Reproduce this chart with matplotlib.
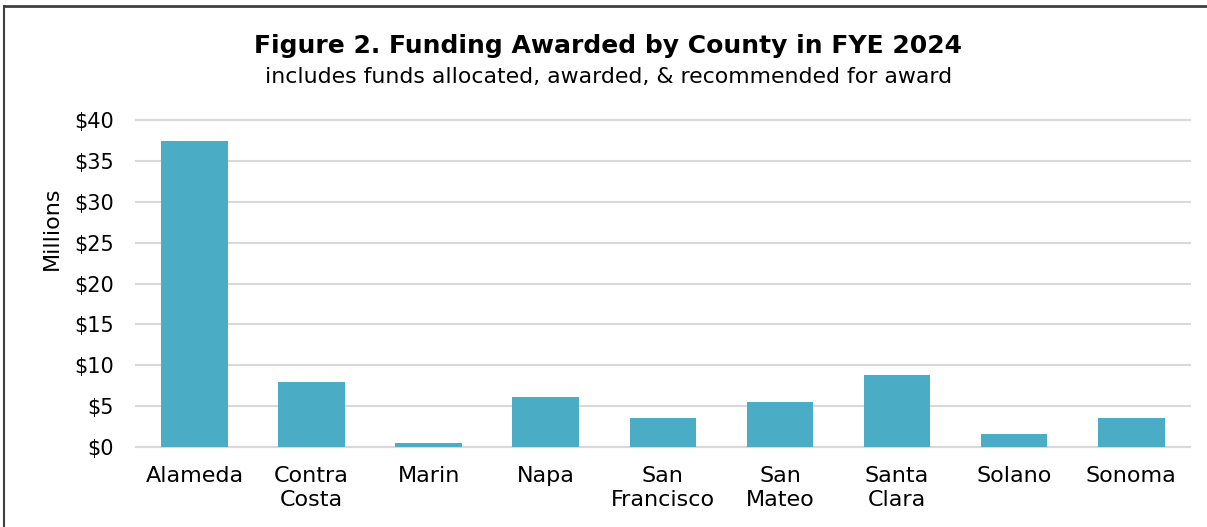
import matplotlib.pyplot as plt
from matplotlib.lines import Line2D

# ==========================
# Data
# ==========================

counties = ["Alameda", "Contra\nCosta", "Marin", "Napa", "San\nFrancisco",
            "San\nMateo", "Santa\nClara", "Solano", "Sonoma"]
funding = [37.5, 7.9, 0.5, 6.1, 3.55, 5.5, 8.8, 1.55, 3.55]
y_ticks = [0, 5, 10, 15, 20, 25, 30, 35, 40]
y_labels = ["$" + str(v) for v in y_ticks]

plt.rcParams["font.family"] = ["DejaVu Sans"]

fig = plt.figure(figsize=(12.07, 5.27), dpi=100)
ax = fig.add_axes([0.1127, 0.152, 0.873, 0.62])

ax.bar(range(len(counties)), funding, width=0.57, color="#4BACC6", zorder=3)

ax.set_xlim(-0.5, len(counties) - 0.5)
ax.set_ylim(0, 40)
ax.set_yticks(y_ticks)
ax.set_yticklabels(y_labels, fontsize=15)
ax.set_xticks(range(len(counties)))
ax.set_xticklabels(counties, fontsize=16, linespacing=1.25)
ax.tick_params(axis="y", length=0, pad=16)
ax.tick_params(axis="x", length=0, pad=14)

ax.grid(axis="y", color="#D9D9D9", linewidth=1.5, zorder=0)
for line in ax.get_ygridlines():
    line.set_clip_on(False)
for side in ["top", "right", "left"]:
    ax.spines[side].set_visible(False)
ax.spines["bottom"].set_color("#D9D9D9")
ax.spines["bottom"].set_linewidth(1.5)

fig.text(52 / 1207, 1 - 228 / 527, "Millions", rotation=90,
         ha="center", va="center", fontsize=16)

fig.text(0.504, 0.912, "Figure 2. Funding Awarded by County in FYE 2024",
         ha="center", va="center", fontsize=18, fontweight="bold")
fig.text(0.504, 0.853, "includes funds allocated, awarded, & recommended for award",
         ha="center", va="center", fontsize=15.8)

# chart border (top and left only, the rest is cropped)
fig.add_artist(Line2D([0.003, 1.0], [0.9886, 0.9886], transform=fig.transFigure,
                      color="#404040", linewidth=2))
fig.add_artist(Line2D([0.003, 0.003], [0.0, 0.9886], transform=fig.transFigure,
                      color="#404040", linewidth=1.5))

plt.savefig("out.png", dpi=100)
